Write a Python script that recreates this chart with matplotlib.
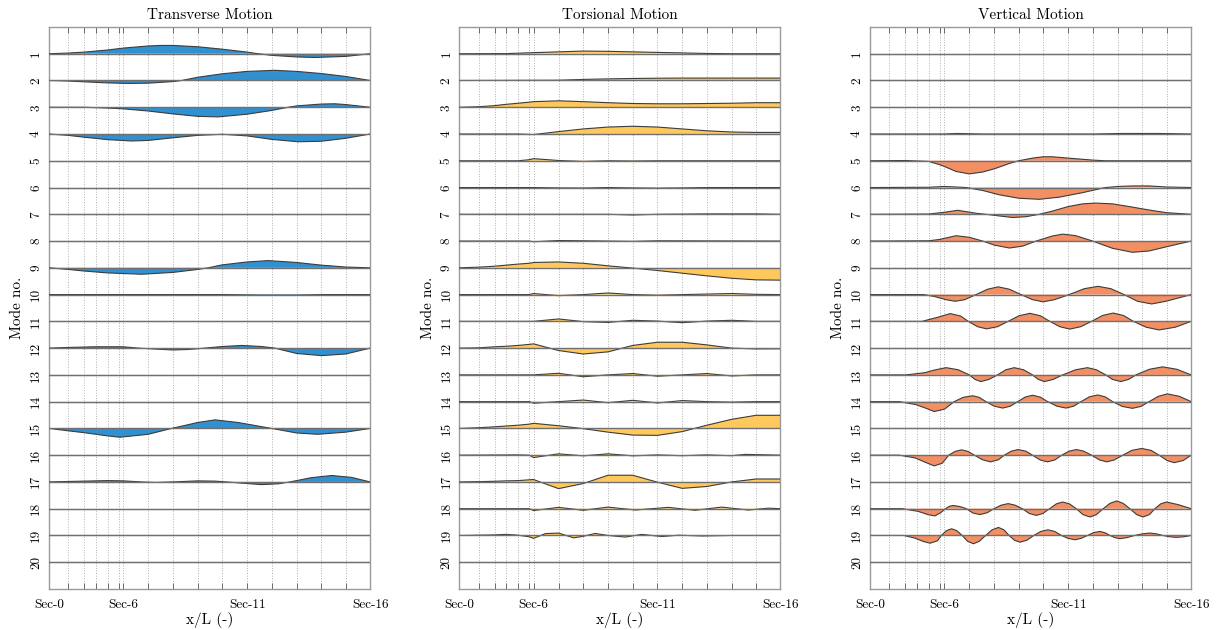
import matplotlib
matplotlib.use("Agg")
import matplotlib.pyplot as plt
import numpy as np

plt.rcParams["font.family"] = "serif"
plt.rcParams["font.serif"] = ["cmr10"]
plt.rcParams["mathtext.fontset"] = "cm"
plt.rcParams["axes.formatter.use_mathtext"] = True

# section stations along the deck (x/L)
SECTION_X = [0.0, 0.060, 0.110, 0.146, 0.183, 0.218, 0.231, 0.309, 0.386,
             0.463, 0.540, 0.617, 0.694, 0.771, 0.848, 0.924, 1.0]
SECTION_LABELS = ["Sec-0", "", "", "", "", "", "Sec-6", "", "", "", "",
                  "Sec-11", "", "", "", "", "Sec-16"]
MODES = list(range(1, 21))
TITLES = ["Transverse Motion", "Torsional Motion", "Vertical Motion"]
COLORS = ["#3090d0", "#ffc85c", "#f28f63"]

# mode shapes: (x/L, amplitude), upward positive
TRANSVERSE = {
    1: [(0, 0), (0.060, 0.025), (0.110, 0.06), (0.183, 0.14), (0.231, 0.21), (0.309, 0.29),
        (0.351, 0.31), (0.387, 0.31), (0.463, 0.26), (0.539, 0.17), (0.617, 0.06), (0.651, 0),
        (0.693, -0.06), (0.771, -0.12), (0.828, -0.14), (0.924, -0.10), (1, 0)],
    2: [(0, 0), (0.060, -0.02), (0.110, -0.05), (0.183, -0.09), (0.247, -0.11), (0.309, -0.10),
        (0.387, -0.04), (0.413, 0), (0.463, 0.12), (0.539, 0.25), (0.617, 0.34), (0.703, 0.38),
        (0.771, 0.34), (0.848, 0.26), (0.924, 0.15), (1, 0)],
    3: [(0, 0), (0.110, 0), (0.183, -0.03), (0.231, -0.06), (0.309, -0.14), (0.387, -0.25),
        (0.463, -0.34), (0.527, -0.36), (0.617, -0.26), (0.693, -0.12), (0.745, 0), (0.771, 0.05),
        (0.848, 0.12), (0.890, 0.13), (0.924, 0.10), (1, 0)],
    4: [(0, 0), (0.060, -0.05), (0.110, -0.12), (0.183, -0.21), (0.257, -0.26), (0.309, -0.24),
        (0.387, -0.14), (0.463, -0.05), (0.540, -0.01), (0.617, -0.07), (0.693, -0.20),
        (0.776, -0.29), (0.848, -0.27), (0.924, -0.16), (1, 0)],
    9: [(0, 0), (0.060, -0.06), (0.110, -0.12), (0.183, -0.19), (0.288, -0.24), (0.387, -0.17),
        (0.463, -0.06), (0.496, 0), (0.539, 0.11), (0.617, 0.22), (0.683, 0.27), (0.771, 0.20),
        (0.848, 0.10), (0.924, 0.03), (1, 0)],
    10: [(0, 0), (0.55, 0), (0.66, -0.02), (0.77, -0.02), (0.85, 0), (1, 0)],
    12: [(0, 0), (0.060, 0.025), (0.143, 0.05), (0.231, 0.05), (0.278, 0), (0.387, -0.07),
         (0.434, -0.05), (0.485, 0), (0.539, 0.06), (0.600, 0.10), (0.662, 0.06), (0.703, 0),
         (0.771, -0.20), (0.848, -0.28), (0.924, -0.22), (1, 0)],
    15: [(0, 0), (0.060, -0.09), (0.110, -0.16), (0.183, -0.28), (0.221, -0.33), (0.309, -0.22),
         (0.382, 0), (0.463, 0.22), (0.517, 0.32), (0.589, 0.22), (0.693, 0), (0.771, -0.17),
         (0.836, -0.22), (0.924, -0.14), (1, 0)],
    17: [(0, 0), (0.091, 0.025), (0.183, 0.05), (0.231, 0.04), (0.288, 0), (0.330, -0.02),
         (0.387, 0), (0.463, 0.04), (0.517, 0.03), (0.553, 0), (0.617, -0.06), (0.662, -0.10),
         (0.714, -0.07), (0.750, 0), (0.817, 0.16), (0.880, 0.24), (0.942, 0.17), (1, 0)],
}

TORSIONAL = {
    1: [(0, 0), (0.146, 0.005), (0.231, 0.04), (0.309, 0.07), (0.386, 0.10), (0.463, 0.09),
        (0.540, 0.07), (0.617, 0.05), (0.694, 0.03), (0.771, 0.01), (0.848, 0), (1, 0)],
    2: [(0, 0), (0.309, 0.01), (0.386, 0.04), (0.463, 0.06), (0.540, 0.075), (0.617, 0.085),
        (0.694, 0.09), (1, 0.09)],
    3: [(0, 0), (0.060, 0.02), (0.110, 0.06), (0.146, 0.11), (0.183, 0.15), (0.218, 0.19),
        (0.231, 0.21), (0.309, 0.24), (0.386, 0.21), (0.463, 0.17), (0.540, 0.14), (0.617, 0.13),
        (0.694, 0.13), (0.771, 0.14), (0.848, 0.15), (0.924, 0.17), (1, 0.17)],
    4: [(0, 0), (0.183, 0), (0.231, -0.02), (0.309, 0.09), (0.386, 0.19), (0.463, 0.26),
        (0.540, 0.29), (0.617, 0.26), (0.694, 0.19), (0.771, 0.12), (0.848, 0.075),
        (0.924, 0.06), (1, 0.06)],
    5: [(0, 0), (0.183, 0), (0.218, 0.04), (0.231, 0.08), (0.309, 0.01), (0.386, -0.025),
        (0.463, 0), (0.540, -0.01), (0.617, 0), (1, 0)],
    6: [(0, 0), (0.231, 0), (0.309, -0.015), (0.386, -0.02), (0.463, 0), (0.540, -0.015),
        (0.617, -0.025), (0.694, -0.015), (0.771, 0), (1, 0)],
    7: [(0, 0), (0.463, 0), (0.540, -0.025), (0.617, 0), (0.771, 0.015), (0.924, 0.015), (1, 0)],
    8: [(0, 0), (0.218, 0), (0.231, -0.025), (0.309, 0.02), (0.386, 0.01), (0.463, 0),
        (0.540, -0.01), (0.617, 0.01), (1, 0)],
    9: [(0, 0), (0.060, 0.025), (0.110, 0.06), (0.146, 0.10), (0.183, 0.14), (0.218, 0.17),
        (0.231, 0.20), (0.309, 0.22), (0.386, 0.17), (0.463, 0.075), (0.540, -0.01),
        (0.617, -0.10), (0.694, -0.20), (0.771, -0.30), (0.848, -0.39), (0.924, -0.45),
        (1, -0.46)],
    10: [(0, 0), (0.218, 0), (0.231, 0.04), (0.309, -0.04), (0.386, 0), (0.463, 0.06),
         (0.540, 0), (0.617, -0.025), (0.694, 0), (0.771, 0.02), (0.848, 0.04), (0.924, 0.01),
         (1, 0)],
    11: [(0, 0), (0.231, 0), (0.309, 0.09), (0.386, -0.01), (0.463, -0.04), (0.540, 0.04),
         (0.617, 0.01), (0.694, -0.05), (0.771, 0.01), (0.848, 0.04), (0.924, 0), (1, 0)],
    12: [(0, 0), (0.060, 0.01), (0.110, 0.05), (0.146, 0.07), (0.183, 0.10), (0.218, 0.14),
         (0.231, 0.16), (0.309, -0.09), (0.386, -0.22), (0.463, -0.14), (0.540, 0.10),
         (0.617, 0.22), (0.694, 0.22), (0.771, 0.12), (0.848, 0), (0.924, -0.03), (1, -0.025)],
    13: [(0, 0), (0.231, 0), (0.309, 0.06), (0.386, -0.07), (0.463, 0), (0.540, 0.05),
         (0.617, -0.05), (0.694, 0), (0.771, 0.05), (0.848, -0.04), (0.924, 0), (1, 0)],
    14: [(0, 0), (0.218, 0), (0.231, -0.06), (0.309, 0), (0.386, 0.06), (0.463, -0.04),
         (0.540, 0.05), (0.617, -0.05), (0.694, 0.04), (0.771, 0), (0.848, -0.02), (0.924, 0),
         (1, 0)],
    15: [(0, 0), (0.060, 0.025), (0.110, 0.06), (0.146, 0.09), (0.183, 0.12), (0.218, 0.16),
         (0.231, 0.19), (0.309, 0.10), (0.386, -0.01), (0.463, -0.14), (0.540, -0.25),
         (0.617, -0.26), (0.694, -0.12), (0.771, 0.12), (0.848, 0.34), (0.924, 0.49), (1, 0.49)],
    16: [(0, 0), (0.183, 0.01), (0.218, 0), (0.231, -0.09), (0.309, 0.05), (0.386, -0.025),
         (0.463, 0.05), (0.540, -0.025), (0.617, 0.01), (0.694, -0.02), (0.771, 0.01),
         (0.848, -0.02), (0.890, 0.03), (1, 0)],
    17: [(0, 0), (0.060, 0.01), (0.110, 0.025), (0.146, 0.04), (0.183, 0.05), (0.218, 0.08),
         (0.231, 0.09), (0.309, -0.25), (0.386, -0.06), (0.463, 0.25), (0.540, 0.25),
         (0.617, -0.01), (0.694, -0.24), (0.771, -0.17), (0.848, 0), (0.924, 0.11), (1, 0.11)],
    18: [(0, 0), (0.218, 0), (0.231, -0.07), (0.309, 0.05), (0.386, -0.06), (0.463, 0.06),
         (0.548, -0.05), (0.651, 0.05), (0.734, -0.06), (0.817, 0.06), (0.900, -0.05),
         (0.963, 0.02), (1, 0)],
    19: [(0, 0), (0.110, 0.02), (0.146, 0.04), (0.183, 0.01), (0.218, -0.05), (0.231, -0.11),
         (0.268, 0.07), (0.309, 0.09), (0.356, -0.09), (0.386, -0.03), (0.423, 0.075),
         (0.463, 0), (0.517, -0.06), (0.568, 0.04), (0.631, -0.04), (0.683, 0.01),
         (0.755, -0.02), (0.848, 0), (1, 0)],
}

VERTICAL = {
    4: [(0, 0), (0.231, 0), (0.270, 0.02), (0.350, 0), (0.700, 0), (0.780, 0.02), (0.900, 0.02),
        (1, 0)],
    5: [(0, 0), (0.110, 0.01), (0.183, -0.025), (0.218, -0.15), (0.231, -0.21), (0.268, -0.40),
        (0.309, -0.49), (0.351, -0.42), (0.387, -0.30), (0.434, -0.10), (0.463, 0),
        (0.506, 0.10), (0.539, 0.15), (0.568, 0.15), (0.617, 0.10), (0.693, 0.025),
        (0.734, 0), (1, 0)],
    6: [(0, 0), (0.183, 0.01), (0.231, 0.04), (0.268, 0.02), (0.299, 0), (0.351, -0.11),
        (0.402, -0.27), (0.463, -0.40), (0.527, -0.44), (0.589, -0.36), (0.662, -0.19),
        (0.714, -0.05), (0.734, 0), (0.771, 0.04), (0.817, 0.06), (0.869, 0.06), (0.924, 0.02),
        (1, 0)],
    7: [(0, 0), (0.183, 0.01), (0.231, 0.075), (0.273, 0.15), (0.330, 0.04), (0.361, 0),
        (0.402, -0.06), (0.444, -0.12), (0.485, -0.09), (0.527, 0), (0.568, 0.12),
        (0.617, 0.29), (0.662, 0.39), (0.703, 0.42), (0.755, 0.39), (0.807, 0.29),
        (0.869, 0.16), (0.924, 0.06), (1, 0)],
    8: [(0, 0), (0.183, 0.01), (0.216, 0.06), (0.268, 0.20), (0.309, 0.14), (0.351, 0),
        (0.387, -0.15), (0.434, -0.26), (0.475, -0.19), (0.517, 0), (0.568, 0.19),
        (0.600, 0.26), (0.641, 0.20), (0.693, 0), (0.755, -0.27), (0.817, -0.42),
        (0.869, -0.37), (0.924, -0.21), (1, 0)],
    10: [(0, 0), (0.166, 0), (0.200, -0.07), (0.237, -0.19), (0.265, -0.25), (0.295, -0.19),
         (0.330, 0), (0.366, 0.20), (0.399, 0.29), (0.434, 0.20), (0.470, 0), (0.506, -0.19),
         (0.539, -0.27), (0.574, -0.19), (0.620, 0), (0.667, 0.22), (0.710, 0.31),
         (0.750, 0.22), (0.791, 0), (0.833, -0.25), (0.877, -0.35), (0.921, -0.25), (1, 0)],
    11: [(0, 0), (0.162, 0), (0.210, 0.15), (0.250, 0.29), (0.282, 0.20), (0.306, 0),
         (0.335, -0.20), (0.363, -0.28), (0.397, -0.20), (0.430, 0), (0.464, 0.21),
         (0.498, 0.30), (0.530, 0.21), (0.560, 0), (0.591, -0.20), (0.622, -0.29),
         (0.656, -0.20), (0.690, 0), (0.724, 0.22), (0.757, 0.31), (0.789, 0.22), (0.820, 0),
         (0.860, -0.22), (0.900, -0.32), (0.950, -0.22), (1, 0)],
    13: [(0, 0), (0.112, 0), (0.170, 0.08), (0.200, 0.18), (0.237, 0.27), (0.275, 0.19),
         (0.309, 0), (0.327, -0.17), (0.345, -0.25), (0.370, -0.17), (0.397, 0), (0.423, 0.19),
         (0.449, 0.27), (0.478, 0.19), (0.506, 0), (0.524, -0.17), (0.543, -0.25),
         (0.570, -0.17), (0.600, 0), (0.640, 0.19), (0.677, 0.27), (0.705, 0.19), (0.734, 0),
         (0.755, -0.17), (0.781, -0.25), (0.805, -0.17), (0.828, 0), (0.870, 0.21),
         (0.911, 0.30), (0.955, 0.21), (1, 0)],
    14: [(0, 0), (0.091, 0), (0.143, -0.11), (0.175, -0.25), (0.200, -0.37), (0.232, -0.28),
         (0.262, 0), (0.290, 0.16), (0.320, 0.22), (0.340, 0.16), (0.361, 0), (0.387, -0.17),
         (0.413, -0.24), (0.437, -0.17), (0.460, 0), (0.483, 0.17), (0.506, 0.24),
         (0.530, 0.17), (0.553, 0), (0.582, -0.17), (0.610, -0.24), (0.634, -0.17), (0.657, 0),
         (0.683, 0.18), (0.709, 0.25), (0.732, 0.18), (0.755, 0), (0.786, -0.18),
         (0.817, -0.25), (0.843, -0.18), (0.869, 0), (0.898, 0.20), (0.926, 0.29),
         (0.963, 0.20), (1, 0)],
    16: [(0, 0), (0.091, 0), (0.140, -0.10), (0.175, -0.28), (0.200, -0.40), (0.225, -0.30),
         (0.245, 0), (0.265, 0.14), (0.285, 0.20), (0.305, 0.14), (0.325, 0), (0.350, -0.17),
         (0.375, -0.25), (0.400, -0.17), (0.418, 0), (0.440, 0.15), (0.461, 0.21),
         (0.485, 0.15), (0.506, 0), (0.530, -0.18), (0.552, -0.25), (0.575, -0.18),
         (0.597, 0), (0.620, 0.15), (0.643, 0.21), (0.665, 0.15), (0.690, 0), (0.715, -0.18),
         (0.737, -0.25), (0.760, -0.18), (0.787, 0), (0.815, 0.18), (0.846, 0.25),
         (0.875, 0.18), (0.900, 0), (0.925, -0.20), (0.947, -0.28), (0.975, -0.20), (1, 0)],
    18: [(0, 0), (0.100, 0), (0.150, -0.10), (0.180, -0.22), (0.202, -0.27), (0.220, -0.15),
         (0.235, 0), (0.247, 0.09), (0.259, 0.12), (0.280, 0.08), (0.300, 0), (0.320, -0.16),
         (0.342, -0.22), (0.365, -0.15), (0.386, 0), (0.408, 0.13), (0.430, 0.19),
         (0.452, 0.13), (0.474, 0), (0.496, -0.18), (0.518, -0.25), (0.538, -0.18),
         (0.559, 0), (0.580, 0.18), (0.600, 0.25), (0.621, 0.18), (0.642, 0), (0.663, -0.22),
         (0.685, -0.31), (0.705, -0.22), (0.726, 0), (0.747, 0.20), (0.768, 0.29),
         (0.788, 0.20), (0.809, 0), (0.830, -0.22), (0.850, -0.31), (0.870, -0.22),
         (0.887, 0), (0.905, 0.18), (0.923, 0.25), (0.960, 0.15), (1, 0)],
    19: [(0, 0), (0.105, 0), (0.140, -0.10), (0.165, -0.22), (0.187, -0.29), (0.210, -0.20),
         (0.222, 0), (0.238, 0.18), (0.254, 0.25), (0.270, 0.18), (0.287, 0), (0.304, -0.22),
         (0.322, -0.31), (0.340, -0.22), (0.360, 0), (0.380, 0.21), (0.400, 0.30),
         (0.417, 0.21), (0.433, 0), (0.450, -0.18), (0.467, -0.25), (0.488, -0.18),
         (0.510, 0), (0.532, 0.15), (0.554, 0.21), (0.575, 0.15), (0.596, 0), (0.617, -0.11),
         (0.638, -0.16), (0.657, -0.11), (0.677, 0), (0.697, 0.11), (0.716, 0.15),
         (0.732, 0.10), (0.747, 0), (0.762, -0.08), (0.778, -0.12), (0.800, -0.08),
         (0.824, 0), (0.848, 0.06), (0.871, 0.09), (0.892, 0.06), (0.912, 0), (0.933, -0.05),
         (0.954, -0.07), (0.977, -0.05), (1, 0)],
}

PANEL_LEFTS = [0.0402, 0.3771, 0.7143]
PANEL_BOTTOM = 0.0651
PANEL_W = 0.2637
PANEL_H = 0.8921


def draw_panel(ax, shapes, title, color):
    for mode in MODES:
        pts = shapes.get(mode, [(0.0, 0.0), (1.0, 0.0)])
        xs = np.array([p[0] for p in pts], dtype=float)
        ys = mode - np.array([p[1] for p in pts], dtype=float)
        ax.fill_between(xs, mode, ys, facecolor=color, edgecolor="none", zorder=2)
        ax.plot(xs, ys, color="#3c3c3c", lw=0.8, zorder=3)
        ax.axhline(mode, color="#707070", lw=1.0, zorder=4)

    ax.set_xlim(0, 1)
    ax.set_ylim(21, 0)
    ax.set_xticks(SECTION_X)
    ax.set_xticklabels(SECTION_LABELS, fontsize=9.5)
    ax.set_yticks(MODES)
    ax.set_yticklabels([str(m) for m in MODES], rotation=90, va="center", fontsize=9.5)
    ax.grid(axis="x", linestyle=":", color="#b0b0b0", lw=0.7, zorder=1)
    ax.tick_params(axis="x", direction="in", top=True, length=4, width=0.6,
                   color="#555555", pad=7)
    ax.tick_params(axis="y", direction="in", length=0, pad=5)
    for spine in ax.spines.values():
        spine.set_color("#9a9a9a")
        spine.set_linewidth(1.0)
    ax.set_title(title, fontsize=11, pad=6)
    ax.set_xlabel("x/L (-)", fontsize=11, labelpad=1)
    ax.set_ylabel("Mode no.", fontsize=11, labelpad=4)


fig = plt.figure(figsize=(12.18, 6.30), dpi=100)
for left, shapes, title, color in zip(PANEL_LEFTS, [TRANSVERSE, TORSIONAL, VERTICAL],
                                      TITLES, COLORS):
    ax = fig.add_axes([left, PANEL_BOTTOM, PANEL_W, PANEL_H])
    draw_panel(ax, shapes, title, color)

fig.savefig("out.png", dpi=100)
